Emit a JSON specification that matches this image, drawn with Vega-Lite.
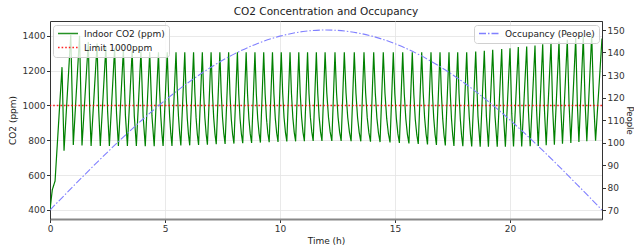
{
  "$schema": "https://vega.github.io/schema/vega-lite/v6.json",
  "width": 552,
  "height": 198,
  "autosize": {"type": "none"},
  "padding": {"left": 50, "top": 21, "right": 32, "bottom": 30},
  "title": {"text": "CO2 Concentration and Occupancy", "fontSize": 10.5, "fontWeight": "normal", "color": "#222", "anchor": "middle", "offset": 4},
  "datasets": {
    "co2": [
      {"t":0,"v":400},{"t":0.1,"v":516},{"t":0.22,"v":566},{"t":0.522,"v":1220},
      {"t":0.61,"v":740},{"t":0.903,"v":1405},
      {"t":1.013,"v":773},{"t":1.285,"v":1400},
      {"t":1.391,"v":770},{"t":1.666,"v":1365},
      {"t":1.727,"v":976},{"t":1.787,"v":768},{"t":2.047,"v":1355},
      {"t":2.117,"v":973},{"t":2.187,"v":768},{"t":2.429,"v":1335},
      {"t":2.505,"v":966},{"t":2.581,"v":768},{"t":2.81,"v":1328},
      {"t":2.892,"v":956},{"t":2.974,"v":768},{"t":3.191,"v":1320},
      {"t":3.278,"v":945},{"t":3.365,"v":768},{"t":3.572,"v":1313},
      {"t":3.664,"v":942},{"t":3.755,"v":767},{"t":3.954,"v":1310},
      {"t":4.048,"v":941},{"t":4.142,"v":766},{"t":4.335,"v":1307},
      {"t":4.433,"v":940},{"t":4.53,"v":766},{"t":4.716,"v":1305},
      {"t":4.766,"v":1088},{"t":4.817,"v":940},{"t":4.867,"v":837},{"t":4.917,"v":767},{"t":5.098,"v":1305},
      {"t":5.149,"v":1089},{"t":5.2,"v":940},{"t":5.252,"v":838},{"t":5.303,"v":768},{"t":5.479,"v":1305},
      {"t":5.532,"v":1090},{"t":5.584,"v":942},{"t":5.637,"v":840},{"t":5.689,"v":770},{"t":5.86,"v":1305},
      {"t":5.914,"v":1076},{"t":5.968,"v":928},{"t":6.021,"v":833},{"t":6.075,"v":771},{"t":6.242,"v":1305},
      {"t":6.297,"v":1077},{"t":6.351,"v":930},{"t":6.406,"v":834},{"t":6.46,"v":773},{"t":6.623,"v":1305},
      {"t":6.678,"v":1078},{"t":6.733,"v":931},{"t":6.789,"v":836},{"t":6.844,"v":775},{"t":7.004,"v":1305},
      {"t":7.06,"v":1078},{"t":7.116,"v":932},{"t":7.172,"v":838},{"t":7.228,"v":777},{"t":7.385,"v":1305},
      {"t":7.442,"v":1079},{"t":7.499,"v":934},{"t":7.556,"v":840},{"t":7.613,"v":779},{"t":7.767,"v":1305},
      {"t":7.825,"v":1067},{"t":7.882,"v":922},{"t":7.94,"v":834},{"t":7.997,"v":781},{"t":8.148,"v":1305},
      {"t":8.206,"v":1067},{"t":8.264,"v":923},{"t":8.322,"v":836},{"t":8.38,"v":783},{"t":8.529,"v":1305},
      {"t":8.588,"v":1068},{"t":8.647,"v":925},{"t":8.706,"v":838},{"t":8.765,"v":785},{"t":8.911,"v":1305},
      {"t":8.97,"v":1069},{"t":9.03,"v":926},{"t":9.089,"v":840},{"t":9.148,"v":787},{"t":9.292,"v":1305},
      {"t":9.352,"v":1070},{"t":9.411,"v":928},{"t":9.471,"v":841},{"t":9.53,"v":789},{"t":9.673,"v":1305},
      {"t":9.733,"v":1071},{"t":9.794,"v":929},{"t":9.854,"v":843},{"t":9.914,"v":791},{"t":10.055,"v":1305},
      {"t":10.116,"v":1072},{"t":10.176,"v":931},{"t":10.237,"v":845},{"t":10.297,"v":793},{"t":10.436,"v":1305},
      {"t":10.497,"v":1072},{"t":10.558,"v":931},{"t":10.618,"v":846},{"t":10.679,"v":794},{"t":10.817,"v":1305},
      {"t":10.878,"v":1073},{"t":10.939,"v":932},{"t":10.999,"v":847},{"t":11.06,"v":795},{"t":11.198,"v":1305},
      {"t":11.259,"v":1073},{"t":11.321,"v":933},{"t":11.382,"v":848},{"t":11.443,"v":796},{"t":11.58,"v":1305},
      {"t":11.641,"v":1073},{"t":11.702,"v":933},{"t":11.763,"v":848},{"t":11.824,"v":796},{"t":11.961,"v":1305},
      {"t":12.034,"v":1073},{"t":12.108,"v":933},{"t":12.181,"v":848},{"t":12.254,"v":796},{"t":12.391,"v":1305},
      {"t":12.458,"v":1073},{"t":12.525,"v":933},{"t":12.592,"v":848},{"t":12.659,"v":796},{"t":12.796,"v":1305},
      {"t":12.87,"v":1073},{"t":12.944,"v":932},{"t":13.018,"v":847},{"t":13.092,"v":795},{"t":13.23,"v":1305},
      {"t":13.301,"v":1072},{"t":13.372,"v":931},{"t":13.442,"v":846},{"t":13.513,"v":794},{"t":13.652,"v":1305},
      {"t":13.723,"v":1072},{"t":13.793,"v":930},{"t":13.864,"v":844},{"t":13.934,"v":792},{"t":14.074,"v":1305},
      {"t":14.143,"v":1071},{"t":14.212,"v":929},{"t":14.281,"v":842},{"t":14.35,"v":790},{"t":14.491,"v":1305},
      {"t":14.564,"v":1070},{"t":14.638,"v":927},{"t":14.711,"v":840},{"t":14.784,"v":788},{"t":14.926,"v":1305},
      {"t":14.992,"v":1068},{"t":15.059,"v":925},{"t":15.125,"v":838},{"t":15.191,"v":785},{"t":15.335,"v":1305},
      {"t":15.403,"v":1067},{"t":15.471,"v":923},{"t":15.538,"v":835},{"t":15.606,"v":782},{"t":15.752,"v":1305},
      {"t":15.817,"v":1066},{"t":15.882,"v":920},{"t":15.947,"v":832},{"t":16.012,"v":779},{"t":16.161,"v":1305},
      {"t":16.224,"v":1078},{"t":16.287,"v":932},{"t":16.35,"v":837},{"t":16.413,"v":776},{"t":16.565,"v":1305},
      {"t":16.624,"v":1077},{"t":16.683,"v":930},{"t":16.742,"v":834},{"t":16.801,"v":773},{"t":16.957,"v":1305},
      {"t":17.015,"v":1075},{"t":17.073,"v":927},{"t":17.13,"v":832},{"t":17.188,"v":770},{"t":17.348,"v":1305},
      {"t":17.402,"v":1075},{"t":17.455,"v":926},{"t":17.509,"v":830},{"t":17.562,"v":768},{"t":17.726,"v":1305},
      {"t":17.782,"v":1074},{"t":17.838,"v":925},{"t":17.894,"v":828},{"t":17.95,"v":766},{"t":18.117,"v":1305},
      {"t":18.172,"v":1087},{"t":18.227,"v":938},{"t":18.281,"v":835},{"t":18.336,"v":764},{"t":18.509,"v":1310},
      {"t":18.607,"v":939},{"t":18.704,"v":763},{"t":18.883,"v":1314},
      {"t":18.973,"v":940},{"t":19.062,"v":763},{"t":19.248,"v":1320},
      {"t":19.347,"v":942},{"t":19.445,"v":763},{"t":19.639,"v":1324},
      {"t":19.719,"v":943},{"t":19.799,"v":763},{"t":20.0,"v":1329},
      {"t":20.077,"v":953},{"t":20.153,"v":764},{"t":20.361,"v":1335},
      {"t":20.435,"v":964},{"t":20.509,"v":765},{"t":20.726,"v":1339},
      {"t":20.802,"v":966},{"t":20.878,"v":766},{"t":21.087,"v":1344},
      {"t":21.158,"v":969},{"t":21.228,"v":768},{"t":21.422,"v":1352},
      {"t":21.498,"v":974},{"t":21.574,"v":771},{"t":21.783,"v":1362},
      {"t":21.856,"v":980},{"t":21.929,"v":775},{"t":22.13,"v":1367},
      {"t":22.206,"v":1002},{"t":22.282,"v":780},{"t":22.491,"v":1377},
      {"t":22.568,"v":1008},{"t":22.645,"v":785},{"t":22.857,"v":1387},
      {"t":22.927,"v":1015},{"t":22.996,"v":790},{"t":23.187,"v":1396},
      {"t":23.264,"v":1022},{"t":23.34,"v":795},{"t":23.552,"v":1406},
      {"t":23.636,"v":1027},{"t":23.72,"v":797},{"t":24,"v":1385}
    ],
    "limit": [{"limit": 1000}],
    "occ": [
      {"t":0,"p":70},{"t":1,"p":80.44},{"t":2,"p":90.71},{"t":3,"p":100.61},{"t":4,"p":110},
      {"t":5,"p":118.7},{"t":6,"p":126.57},{"t":7,"p":133.47},{"t":8,"p":139.28},{"t":9,"p":143.91},
      {"t":10,"p":147.27},{"t":11,"p":149.31},{"t":12,"p":150},{"t":13,"p":149.31},{"t":14,"p":147.27},
      {"t":15,"p":143.91},{"t":16,"p":139.28},{"t":17,"p":133.47},{"t":18,"p":126.57},{"t":19,"p":118.7},
      {"t":20,"p":110},{"t":21,"p":100.61},{"t":22,"p":90.71},{"t":23,"p":80.44},{"t":24,"p":70}
    ]
  },
  "layer": [
    {
      "layer": [
        {
          "data": {"name": "co2"},
          "mark": {"type": "line", "strokeWidth": 1.2, "clip": true},
          "encoding": {
            "x": {"field": "t", "type": "quantitative", "title": "Time (h)",
              "scale": {"domain": [0, 24], "nice": false, "zero": false},
              "axis": {"values": [0, 5, 10, 15, 20], "format": "d", "grid": true, "gridColor": "#e3e3e3", "gridWidth": 0.8,
                "tickSize": 3.5, "tickColor": "#333", "labelFontSize": 9, "labelColor": "#333", "labelPadding": 2, "labelFlush": false, "labelOverlap": false,
                "domainColor": "#888", "domainWidth": 1.8, "titleFontSize": 9, "titleFontWeight": "normal", "titleColor": "#222", "titlePadding": 3}},
            "y": {"field": "v", "type": "quantitative", "title": "CO2 (ppm)",
              "scale": {"domain": [348, 1485], "nice": false, "zero": false},
              "axis": {"values": [400, 600, 800, 1000, 1200, 1400], "format": "d", "labelOverlap": false, "grid": true, "gridColor": "#e3e3e3", "gridWidth": 0.8,
                "tickSize": 3.5, "tickColor": "#333", "labelFontSize": 9, "labelColor": "#333", "labelPadding": 1.5,
                "domainColor": "#333", "domainWidth": 1, "titleFontSize": 9, "titleFontWeight": "normal", "titleColor": "#222", "titlePadding": 5}},
            "color": {"datum": "Indoor CO2 (ppm)", "type": "nominal",
              "scale": {"domain": ["Indoor CO2 (ppm)", "Limit 1000ppm"], "range": ["#008000", "#ff0000"]},
              "legend": {"title": null, "orient": "none", "legendX": 3, "legendY": 4, "labelFontSize": 9, "labelColor": "#222",
                "symbolType": "stroke", "symbolSize": 400, "symbolStrokeWidth": 1.5, "padding": 4, "rowPadding": 4, "clipHeight": 9,
                "fillColor": "rgba(255,255,255,0.8)", "strokeColor": "#d0d0d0", "cornerRadius": 3, "labelOffset": 5}},
            "strokeDash": {"datum": "Indoor CO2 (ppm)", "type": "nominal",
              "scale": {"domain": ["Indoor CO2 (ppm)", "Limit 1000ppm"], "range": [[1, 0], [1.6, 2]]},
              "legend": {"title": null, "orient": "none", "legendX": 3, "legendY": 4, "labelFontSize": 9, "labelColor": "#222",
                "symbolType": "stroke", "symbolSize": 400, "symbolStrokeWidth": 1.5, "padding": 4, "rowPadding": 4, "clipHeight": 9,
                "fillColor": "rgba(255,255,255,0.8)", "strokeColor": "#d0d0d0", "cornerRadius": 3, "labelOffset": 5}}
          }
        },
        {
          "data": {"name": "limit"},
          "mark": {"type": "rule", "strokeWidth": 1.5, "opacity": 0.85},
          "encoding": {
            "y": {"field": "limit", "type": "quantitative", "title": "CO2 (ppm)",
              "axis": {"values": [400, 600, 800, 1000, 1200, 1400], "format": "d", "labelOverlap": false, "grid": true, "gridColor": "#e3e3e3", "gridWidth": 0.8,
                "tickSize": 3.5, "tickColor": "#333", "labelFontSize": 9, "labelColor": "#333", "labelPadding": 1.5,
                "domainColor": "#333", "domainWidth": 1, "titleFontSize": 9, "titleFontWeight": "normal", "titleColor": "#222", "titlePadding": 5}},
            "color": {"datum": "Limit 1000ppm", "type": "nominal"},
            "strokeDash": {"datum": "Limit 1000ppm", "type": "nominal"}
          }
        }
      ]
    },
    {
      "data": {"name": "occ"},
      "mark": {"type": "line", "strokeWidth": 1.1, "interpolate": "monotone", "clip": true},
      "encoding": {
        "x": {"field": "t", "type": "quantitative", "title": "Time (h)",
          "axis": {"values": [0, 5, 10, 15, 20], "format": "d", "grid": true, "gridColor": "#e3e3e3", "gridWidth": 0.8,
            "tickSize": 3.5, "tickColor": "#333", "labelFontSize": 9, "labelColor": "#333", "labelPadding": 2, "labelFlush": false, "labelOverlap": false,
            "domainColor": "#888", "domainWidth": 1.8, "titleFontSize": 9, "titleFontWeight": "normal", "titleColor": "#222", "titlePadding": 3}},
        "y": {"field": "p", "type": "quantitative", "title": "People",
          "scale": {"domain": [66, 154], "nice": false, "zero": false},
          "axis": {"orient": "right", "values": [70, 80, 90, 100, 110, 120, 130, 140, 150], "format": "d", "labelOverlap": false, "grid": false,
            "tickSize": 3.5, "tickColor": "#333", "labelFontSize": 9, "labelColor": "#333", "labelPadding": 1.5,
            "domainColor": "#333", "domainWidth": 1, "titleFontSize": 8.5, "titleFontWeight": "normal", "titleColor": "#222", "titlePadding": 0}},
        "color": {"datum": "Occupancy (People)", "type": "nominal",
          "scale": {"domain": ["Occupancy (People)"], "range": ["#8080ff"]},
          "legend": {"title": null, "orient": "none", "legendX": 424, "legendY": 4, "labelFontSize": 9, "labelColor": "#222",
            "symbolType": "stroke", "symbolSize": 400, "symbolStrokeWidth": 1.5, "padding": 4, "clipHeight": 9,
            "fillColor": "rgba(255,255,255,0.8)", "strokeColor": "#d0d0d0", "cornerRadius": 3, "labelOffset": 5}},
        "strokeDash": {"datum": "Occupancy (People)", "type": "nominal",
          "scale": {"domain": ["Occupancy (People)"], "range": [[7, 2, 1.5, 2]]},
          "legend": {"title": null, "orient": "none", "legendX": 424, "legendY": 4, "labelFontSize": 9, "labelColor": "#222",
            "symbolType": "stroke", "symbolSize": 400, "symbolStrokeWidth": 1.5, "padding": 4, "clipHeight": 9,
            "fillColor": "rgba(255,255,255,0.8)", "strokeColor": "#d0d0d0", "cornerRadius": 3, "labelOffset": 5}}
      }
    }
  ],
  "resolve": {
    "scale": {"y": "independent", "color": "independent", "strokeDash": "independent"},
    "legend": {"color": "independent", "strokeDash": "independent"}
  },
  "config": {
    "font": "DejaVu Sans",
    "view": {"stroke": "#333", "strokeWidth": 1},
    "axis": {"labelFont": "DejaVu Sans", "titleFont": "DejaVu Sans"},
    "legend": {"labelFont": "DejaVu Sans"}
  }
}
